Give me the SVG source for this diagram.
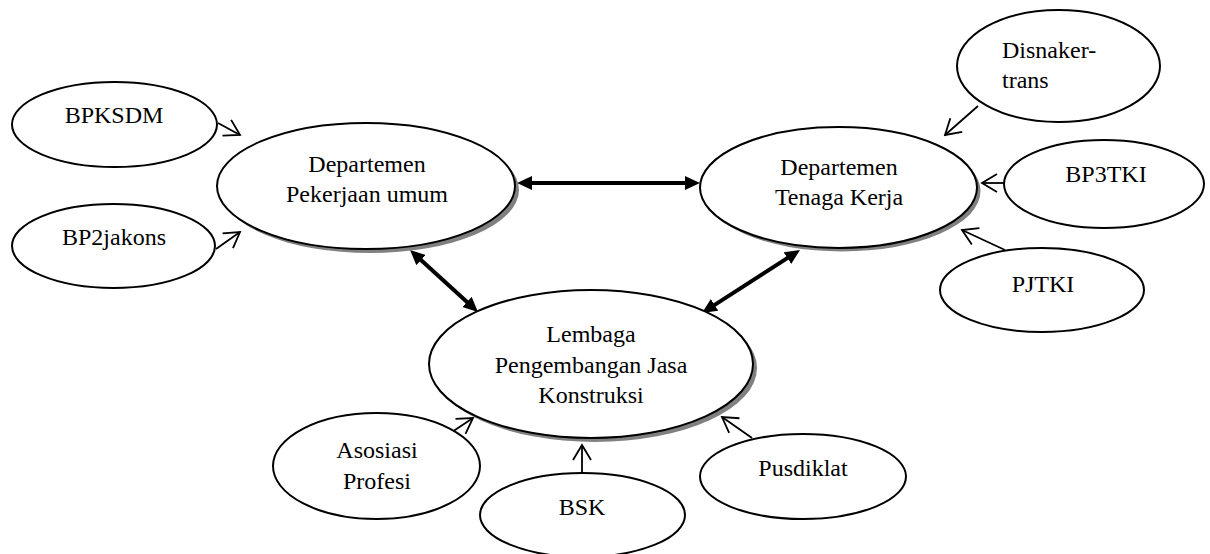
<svg xmlns="http://www.w3.org/2000/svg" width="1210" height="554" viewBox="0 0 1210 554">
<style>
  .node ellipse.main { fill: #ffffff; stroke: #000000; stroke-width: 2; }
  .node ellipse.shadow { fill: #808080; stroke: none; }
  text { font-family: 'Liberation Serif', 'Times New Roman', Tinos, 'DejaVu Serif', serif; font-size: 24px; fill: #000000; text-anchor: middle; }
  .thick { stroke: #000000; stroke-width: 4; fill: none; }
  .thin { stroke: #000000; stroke-width: 1.8; fill: none; }
</style>
<defs>
  <marker id="solidHead" viewBox="0 0 15 14" refX="5" refY="7" markerWidth="15" markerHeight="14" markerUnits="userSpaceOnUse" orient="auto-start-reverse">
    <path d="M0,0 L15,7 L0,14 Z" fill="#000000"/>
  </marker>
  <marker id="openHead" viewBox="-1 -1 18 20" refX="15" refY="9" markerWidth="18" markerHeight="20" markerUnits="userSpaceOnUse" orient="auto">
    <path d="M0,0 L15,9 L0,18" fill="none" stroke="#000000" stroke-width="1.8"/>
  </marker>
</defs>
<rect x="0" y="0" width="1210" height="554" fill="#ffffff"/>

<g id="connectors">
  <line class="thick" x1="527" y1="183" x2="690" y2="183" marker-start="url(#solidHead)" marker-end="url(#solidHead)"/>
  <line class="thick" x1="417.4" y1="256.7" x2="470.6" y2="305.3" marker-start="url(#solidHead)" marker-end="url(#solidHead)"/>
  <line class="thick" x1="791.6" y1="255.4" x2="710.4" y2="307.6" marker-start="url(#solidHead)" marker-end="url(#solidHead)"/>
  <line class="thin" x1="218" y1="123" x2="240" y2="135" marker-end="url(#openHead)"/>
  <line class="thin" x1="216" y1="249" x2="240" y2="232" marker-end="url(#openHead)"/>
  <line class="thin" x1="978" y1="106" x2="945" y2="135" marker-end="url(#openHead)"/>
  <line class="thin" x1="1004" y1="183" x2="982" y2="183" marker-end="url(#openHead)"/>
  <line class="thin" x1="1005" y1="250" x2="962" y2="230" marker-end="url(#openHead)"/>
  <line class="thin" x1="449" y1="434" x2="473" y2="418" marker-end="url(#openHead)"/>
  <line class="thin" x1="582" y1="473" x2="582" y2="445" marker-end="url(#openHead)"/>
  <line class="thin" x1="752" y1="438" x2="722" y2="417" marker-end="url(#openHead)"/>
</g>

<g id="pekerjaan-umum" class="node">
  <ellipse class="shadow" cx="370" cy="190" rx="149" ry="63"/>
  <ellipse class="main" cx="366" cy="186" rx="149" ry="63"/>
  <text x="367" y="172" font-family="Liberation Serif, serif">Departemen</text>
  <text x="367" y="202" font-family="Liberation Serif, serif">Pekerjaan umum</text>
</g>

<g id="tenaga-kerja" class="node">
  <ellipse class="shadow" cx="842" cy="191" rx="138.5" ry="60.5"/>
  <ellipse class="main" cx="838.5" cy="187.5" rx="138.5" ry="60.5"/>
  <text x="839" y="175">Departemen</text>
  <text x="839" y="205">Tenaga Kerja</text>
</g>

<g id="lembaga" class="node">
  <ellipse class="shadow" cx="595" cy="368" rx="162" ry="74"/>
  <ellipse class="main" cx="591" cy="364" rx="162" ry="74"/>
  <text x="591" y="342">Lembaga</text>
  <text x="591" y="373">Pengembangan Jasa</text>
  <text x="591" y="403">Konstruksi</text>
</g>

<g id="bpksdm" class="node">
  <ellipse class="main" cx="114.5" cy="124.5" rx="102.5" ry="42.5"/>
  <text x="114" y="123">BPKSDM</text>
</g>

<g id="bp2jakons" class="node">
  <ellipse class="main" cx="113.5" cy="246" rx="101.5" ry="42"/>
  <text x="114" y="245">BP2jakons</text>
</g>

<g id="disnakertrans" class="node">
  <ellipse class="main" cx="1058.5" cy="66" rx="101.5" ry="56"/>
  <text x="1002" y="58" style="text-anchor:start">Disnaker-</text>
  <text x="1002" y="88" style="text-anchor:start">trans</text>
</g>

<g id="bp3tki" class="node">
  <ellipse class="main" cx="1104" cy="184" rx="100" ry="44"/>
  <text x="1106" y="182">BP3TKI</text>
</g>

<g id="pjtki" class="node">
  <ellipse class="main" cx="1042" cy="290" rx="102" ry="42"/>
  <text x="1043" y="292">PJTKI</text>
</g>

<g id="asosiasi-profesi" class="node">
  <ellipse class="main" cx="376.5" cy="466" rx="103.5" ry="53"/>
  <text x="377" y="458">Asosiasi</text>
  <text x="377" y="489">Profesi</text>
</g>

<g id="bsk" class="node">
  <ellipse class="main" cx="582.5" cy="515" rx="102.5" ry="42"/>
  <text x="582" y="515">BSK</text>
</g>

<g id="pusdiklat" class="node">
  <ellipse class="main" cx="803" cy="476.5" rx="103" ry="42.5"/>
  <text x="803" y="476">Pusdiklat</text>
</g>
</svg>
